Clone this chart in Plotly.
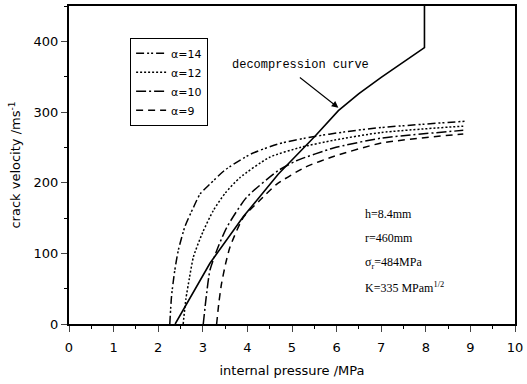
import plotly.graph_objects as go

# ---- data ----
decomp_x = [2.38, 3.16, 3.91, 4.69, 5.52, 6.04, 6.5, 7.0, 7.97, 7.97]
decomp_y = [0, 86, 152, 212, 266, 302, 326, 349, 391, 450]

a14_x = [2.26, 2.30, 2.37, 2.45, 2.60, 2.79, 2.94, 3.16, 3.50, 4.06, 4.70, 5.47, 6.20, 7.0, 8.88]
a14_y = [0, 40, 75, 104, 138, 165, 184, 198, 218, 240, 255, 265, 272, 278, 287]

a12_x = [2.56, 2.62, 2.70, 2.79, 3.0, 3.24, 3.50, 3.83, 4.50, 5.20, 5.93, 7.0, 8.84]
a12_y = [0, 35, 65, 95, 130, 161, 185, 207, 236, 250, 260, 271, 280]

a10_x = [3.01, 3.08, 3.16, 3.35, 3.54, 3.98, 4.69, 5.10, 5.93, 7.0, 8.84]
a10_y = [0, 40, 76, 110, 137, 179, 217, 231, 249, 263, 274]

a9_x = [3.31, 3.36, 3.42, 3.51, 3.61, 3.91, 4.28, 4.66, 5.30, 5.93, 7.0, 8.84]
a9_y = [0, 30, 57, 85, 109, 151, 175, 198, 222, 237, 256, 269]

series = [
    ("α=14", a14_x, a14_y, "8px,3px,2px,2px,2px,3px"),
    ("α=12", a12_x, a12_y, "2px,2px"),
    ("α=10", a10_x, a10_y, "10px,3px,2px,3px"),
    ("α=9", a9_x, a9_y, "7px,5px"),
]

x_ticks = [0, 1, 2, 3, 4, 5, 6, 7, 8, 9, 10]
y_ticks = [0, 100, 200, 300, 400]

params = ["h=8.4mm", "r=460mm", "σ<sub>r</sub>=484MPa", "K=335 MPam<sup>1/2</sup>"]
params_y = [156, 121, 87, 52]

fig = go.Figure()
for name, xs, ys, dash in series:
    fig.add_trace(go.Scatter(
        x=xs, y=ys, mode="lines", name=name,
        line=dict(color="black", width=1.5, dash=dash, shape="spline", smoothing=0.6),
    ))

fig.add_trace(go.Scatter(
    x=decomp_x, y=decomp_y, mode="lines", showlegend=False,
    line=dict(color="black", width=1.6),
))

sans = "DejaVu Sans"
serif = "Liberation Serif"

fig.add_annotation(x=5.18, y=367, text="decompression curve", showarrow=False,
                   font=dict(family="Liberation Mono", size=12, color="black"))
fig.add_annotation(x=6.04, y=306, text=" ", showarrow=True, ax=-42, ay=-33,
                   arrowhead=2, arrowsize=1.2, arrowwidth=1.1, arrowcolor="black")

for t, yv in zip(params, params_y):
    fig.add_annotation(x=6.6, y=yv, text=t, showarrow=False, xanchor="left",
                       font=dict(family=serif, size=12, color="black"))

fig.update_layout(
    width=527, height=384,
    margin=dict(l=69, r=12, t=4, b=60),
    paper_bgcolor="white", plot_bgcolor="white",
    font=dict(family=sans, size=13, color="black"),
    legend=dict(x=0.137, y=0.9, xanchor="left", yanchor="top",
                bordercolor="black", borderwidth=1, bgcolor="white",
                font=dict(family=sans, size=11), itemwidth=30),
)
fig.update_xaxes(
    range=[0, 10], tickvals=x_ticks, ticks="outside", ticklen=6, tickwidth=1.2,
    ticklabelstandoff=4,
    showline=True, linecolor="black", linewidth=2, mirror=True, showgrid=False,
    zeroline=False, minor=dict(ticks="outside", ticklen=3, dtick=0.5, tickcolor="black"),
    title=dict(text="internal pressure /MPa", font=dict(size=13), standoff=12),
)
fig.update_yaxes(
    range=[0, 450], tickvals=y_ticks, ticks="outside", ticklen=6, tickwidth=1.2,
    showline=True, linecolor="black", linewidth=2, mirror=True, showgrid=False,
    zeroline=False, minor=dict(ticks="outside", ticklen=3, dtick=50, tickcolor="black"),
    title=dict(text="crack velocity /ms<sup>-1</sup>", font=dict(size=13), standoff=10),
)

fig.write_html("out.html")
